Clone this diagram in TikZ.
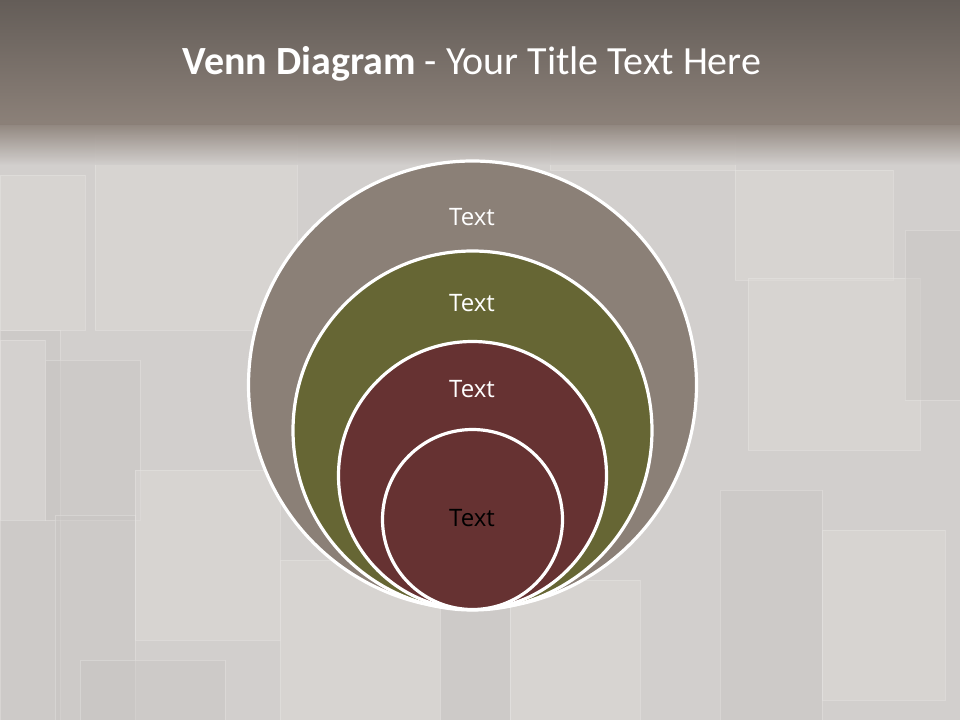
\documentclass[tikz,border=0pt]{standalone}
\usepackage{fontspec}
\setmainfont{Carlito}
\newfontfamily\labelfont{Open Sans}
\definecolor{bandtop}{RGB}{100,93,88}
\definecolor{bandbot}{RGB}{140,129,121}
\definecolor{bgA}{RGB}{210,207,205}
\definecolor{bgB}{RGB}{200,197,195}
\definecolor{bgC}{RGB}{220,217,214}
\definecolor{boxedge}{RGB}{230,228,226}
\definecolor{ringA}{RGB}{139,128,119}
\definecolor{ringB}{RGB}{102,102,52}
\definecolor{ringC}{RGB}{102,50,50}
\tikzset{
  ring/.style={draw=white, line width=2.4pt},
  lbl/.style={font=\labelfont\fontsize{18}{20}\selectfont, text=white, inner sep=0pt},
  cube/.style={fill=bgC, draw=boxedge, line width=0.6pt, opacity=0.5},
  cubedark/.style={fill=bgB, draw=boxedge, line width=0.5pt, opacity=0.45}
}
\begin{document}
\begin{tikzpicture}[x=0.75pt,y=-0.75pt]
\useasboundingbox (0,0) rectangle (960,720);
% background
\fill[bgA] (0,0) rectangle (960,720);
\fill[cubedark] (0,330) rectangle (60,720);
\fill[cube] (95,135) rectangle (297,330);
\fill[cube] (0,175) rectangle (85,330);
\fill[cube] (0,340) rectangle (45,520);
\fill[cubedark] (45,360) rectangle (140,520);
\fill[cube] (135,470) rectangle (280,640);
\fill[cubedark] (55,515) rectangle (135,720);
\fill[cube] (280,560) rectangle (440,720);
\fill[cubedark] (440,600) rectangle (510,720);
\fill[cube] (510,580) rectangle (640,720);
\fill[cube] (735,170) rectangle (893,280);
\fill[cube] (748,278) rectangle (920,450);
\fill[cubedark] (905,230) rectangle (960,400);
\fill[cubedark] (720,490) rectangle (822,720);
\fill[cube] (822,530) rectangle (945,700);
\fill[cube] (550,135) rectangle (735,170);
\fill[cubedark] (80,660) rectangle (225,720);
% top band
\shade[top color=bandtop, bottom color=bandbot] (0,0) rectangle (960,125);
\shade[top color=bandbot, bottom color=bgA, opacity=0.9] (0,125) rectangle (960,165);
% title
\node[font=\fontsize{30}{34}\selectfont, text=white, anchor=base, inner sep=0pt] (title) at (472,75)
  {\textbf{Venn Diagram} - Your Title Text Here};
% rings
\node[ring, circle, fill=ringA, minimum size=448pt*0.75, inner sep=0pt] (c1) at (472.5,385) {};
\node[ring, circle, fill=ringB, minimum size=359pt*0.75, inner sep=0pt] (c2) at (472.5,430.5) {};
\node[ring, circle, fill=ringC, minimum size=268pt*0.75, inner sep=0pt] (c3) at (472.5,475.5) {};
\node[ring, circle, fill=ringC, minimum size=180pt*0.75, inner sep=0pt] (c4) at (472.5,519.5) {};
% labels
\node[lbl] (t1) at (472,217) {Text};
\node[lbl] (t2) at (472,303) {Text};
\node[lbl] (t3) at (472,389) {Text};
\node[lbl, text=black] (t4) at (472,518) {Text};
\end{tikzpicture}
\end{document}
